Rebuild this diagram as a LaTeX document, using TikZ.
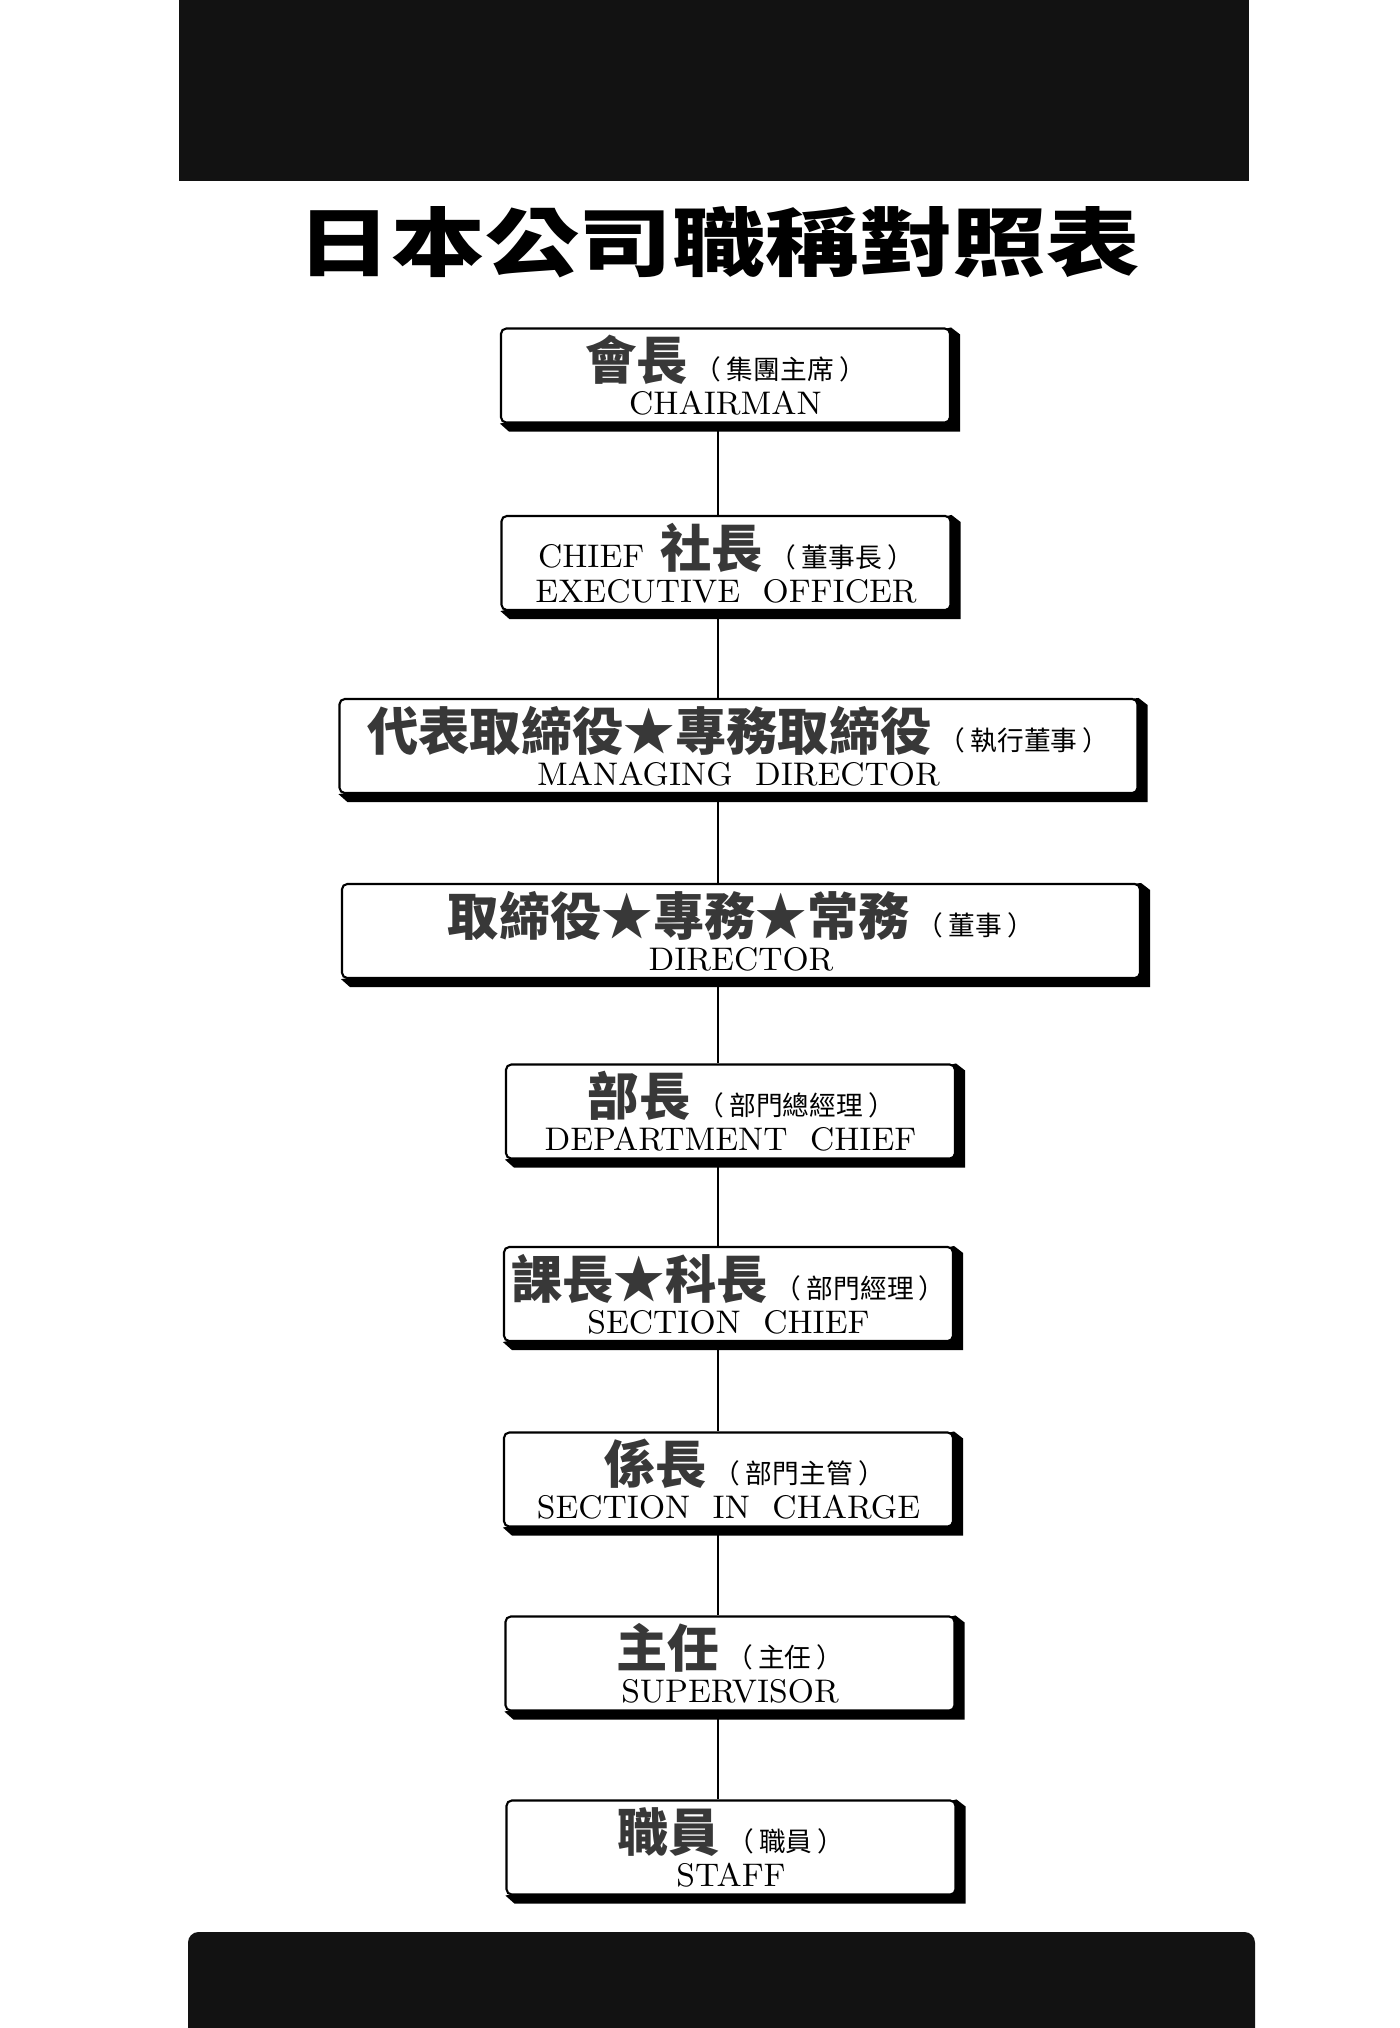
\documentclass[tikz,border=0pt]{standalone}
\usepackage{fontspec}
\usepackage{xcolor}
\usetikzlibrary{positioning,backgrounds}
\newfontfamily\cjkheavy{Noto Sans CJK TC Black}
\newfontfamily\cjkplain{Noto Sans CJK TC}
\definecolor{inkgray}{HTML}{383838}
\newcommand{\bigjp}{\cjkheavy\fontsize{14.6}{14.6}\selectfont\color{inkgray}}
\newcommand{\smalljp}{\cjkplain\fontsize{7.6}{7.6}\selectfont}
\newcommand{\paren}[1]{{\smalljp\hspace{2pt}（\hspace{1.5pt}#1\hspace{1.5pt}）}}

\begin{document}
\begin{tikzpicture}[
    box/.style={draw, fill=white, rounded corners=1.5pt, line width=0.6pt, minimum width=4.49cm, minimum height=0.94cm, inner sep=0pt, align=center, font=\fontsize{9.3}{10}\selectfont},
    widebox/.style={box, minimum width=7.98cm},
    link/.style={line width=0.5pt}
]
\useasboundingbox (0,0) rectangle (14,-20.28);

% Black bands
\fill[black!93] (1.79,0.1) rectangle (12.49,-1.81);
\fill[black!93, rounded corners=3pt] (1.88,-19.32) rectangle (12.55,-20.6);

% Title
\node[font=\cjkheavy\fontsize{21.3}{21.3}\selectfont] (title) at (7.19,-2.42) {\scalebox{1.25}[1]{日本公司職稱對照表}};

% Ranks
\node[box] (chair) at (7.255,-3.755) {{\bigjp 會長}\paren{集團主席}\\CHAIRMAN};
\node[box] (ceo) at (7.26,-5.63) {\makebox[3.76cm]{CHIEF\hfill{\bigjp 社長}\paren{董事長}}\\EXECUTIVE\ \ OFFICER};
\node[widebox] (md) at (7.385,-7.46) {{\bigjp 代表取締役★專務取締役}\paren{執行董事}\\MANAGING\ \ DIRECTOR};
\node[widebox] (dir) at (7.41,-9.31) {{\bigjp 取締役★專務★常務}\paren{董事}\hspace{0.18cm}\\DIRECTOR};
\node[box] (dept) at (7.305,-11.115) {\hspace{0.22cm}{\bigjp 部長}\paren{部門總經理}\\DEPARTMENT\ \ CHIEF};
\node[box] (sect) at (7.285,-12.94) {{\bigjp 課長★科長}\paren{部門經理}\\SECTION\ \ CHIEF};
\node[box] (charge) at (7.285,-14.795) {\hspace{0.32cm}{\bigjp 係長}\paren{部門主管}\\SECTION\ \ IN\ \ CHARGE};
\node[box] (super) at (7.30,-16.635) {{\bigjp 主任}\paren{主任}\\SUPERVISOR};
\node[box] (staff) at (7.31,-18.475) {{\bigjp 職員}\paren{職員}\\STAFF};

% Shadows
\begin{scope}[on background layer]
\foreach \n in {chair,ceo,md,dir,dept,sect,charge,super,staff}
    \fill (\n.north east) -- ++(0.09,-0.07) |- ([xshift=0.9mm,yshift=-0.8mm]\n.south west) -- (\n.south west) -- cycle;
\end{scope}

% Links
\coordinate (spine) at (7.18,0);
\draw[link] (chair.south -| spine) -- (ceo.north -| spine);
\draw[link] (ceo.south -| spine) -- (md.north -| spine);
\draw[link] (md.south -| spine) -- (dir.north -| spine);
\draw[link] (dir.south -| spine) -- (dept.north -| spine);
\draw[link] (dept.south -| spine) -- (sect.north -| spine);
\draw[link] (sect.south -| spine) -- (charge.north -| spine);
\draw[link] (charge.south -| spine) -- (super.north -| spine);
\draw[link] (super.south -| spine) -- (staff.north -| spine);

\end{tikzpicture}
\end{document}
